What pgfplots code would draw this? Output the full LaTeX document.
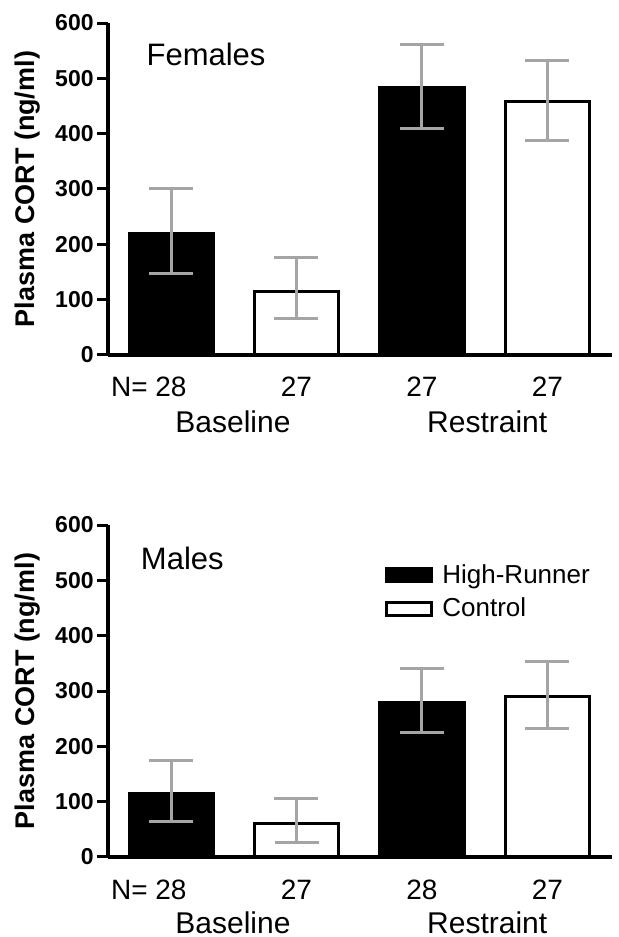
\documentclass[border=0pt]{standalone}
\usepackage{pgfplots}
\pgfplotsset{compat=1.18}
\usepackage{fontspec}
\setmainfont{Liberation Sans}
\definecolor{errgray}{RGB}{165,165,165}
\pgfplotsset{
  cortaxis/.style={
    scale only axis, width=252pt, height=166pt,
    xmin=-0.502, xmax=3.514, ymin=0, ymax=600,
    axis x line=bottom, axis y line=left,
    axis line style={-, line width=1.8pt},
    ytick={0,100,...,600},
    tick align=outside, major tick length=5.5pt,
    ytick style={line width=1.5pt, black},
    xtick={0,1,2,3}, xtick style={draw=none},
    /pgf/number format/assume math mode=true,
    yticklabel style={font=\fontsize{11.5}{12}\selectfont\bfseries, inner sep=1.5pt},
    xticklabel style={font=\fontsize{14}{16}\selectfont, anchor=base, yshift=-15.5pt},
    ylabel={Plasma CORT (ng/ml)},
    ylabel style={font=\fontsize{13.5}{15}\selectfont\bfseries, at={(axis description cs:-0.159,0.5)}, anchor=center},
    clip=false,
    error bars/y dir=both, error bars/y explicit,
    error bars/error bar style={errgray, line width=1.5pt},
    error bars/error mark options={errgray, line width=1.5pt, mark size=11pt, rotate=90},
    legend image code/.code={\draw[#1] (0pt,-3.25pt) rectangle (22.5pt,3.25pt);},
  },
  hr/.style={ybar, bar width=42pt, bar shift=0pt, fill=black, draw=black, line width=1.5pt},
  ct/.style={ybar, bar width=42pt, bar shift=0pt, fill=white, draw=black, line width=1.5pt},
}
\begin{document}
\begin{tikzpicture}
\useasboundingbox (0,0) rectangle (309pt,468.5pt);
% Females
\begin{axis}[cortaxis, at={(54pt,291pt)}, anchor=south west,
  xticklabels={{\llap{N= }28},27,27,27}]
\addplot[hr] coordinates {(0,220) += (0,81) -= (0,72) (2,484) += (0,78) -= (0,74)};
\addplot[ct] coordinates {(1,115) += (0,62) -= (0,49) (3,458) += (0,75) -= (0,71)};
\node[font=\fontsize{15.5}{18}\selectfont] at (axis cs:0.279,544) {Females};
\node[anchor=base, font=\fontsize{15}{18}\selectfont, yshift=-39pt] at (axis cs:0.494,0) {Baseline};
\node[anchor=base, font=\fontsize{15}{18}\selectfont, yshift=-39pt] at (axis cs:2.52,0) {Restraint};
\end{axis}
% Males
\begin{axis}[cortaxis, at={(54pt,40pt)}, anchor=south west,
  xticklabels={{\llap{N= }28},27,28,27},
  legend style={at={(axis cs:1.705,537)}, anchor=north west, draw=none, fill=none,
    inner sep=0pt, font=\fontsize{13}{14}\selectfont, row sep=2pt,
    /tikz/every odd column/.append style={column sep=2.5pt}},
  legend cell align=left]
\addplot[hr] coordinates {(0,115) += (0,59) -= (0,50) (2,280) += (0,60) -= (0,55)};
\addplot[ct] coordinates {(1,60) += (0,46) -= (0,34) (3,290) += (0,63) -= (0,57)};
\legend{High-Runner, Control}
\node[font=\fontsize{15.5}{18}\selectfont] at (axis cs:0.09,540) {Males};
\node[anchor=base, font=\fontsize{15}{18}\selectfont, yshift=-38pt] at (axis cs:0.494,0) {Baseline};
\node[anchor=base, font=\fontsize{15}{18}\selectfont, yshift=-38pt] at (axis cs:2.52,0) {Restraint};
\end{axis}
\end{tikzpicture}
\end{document}
